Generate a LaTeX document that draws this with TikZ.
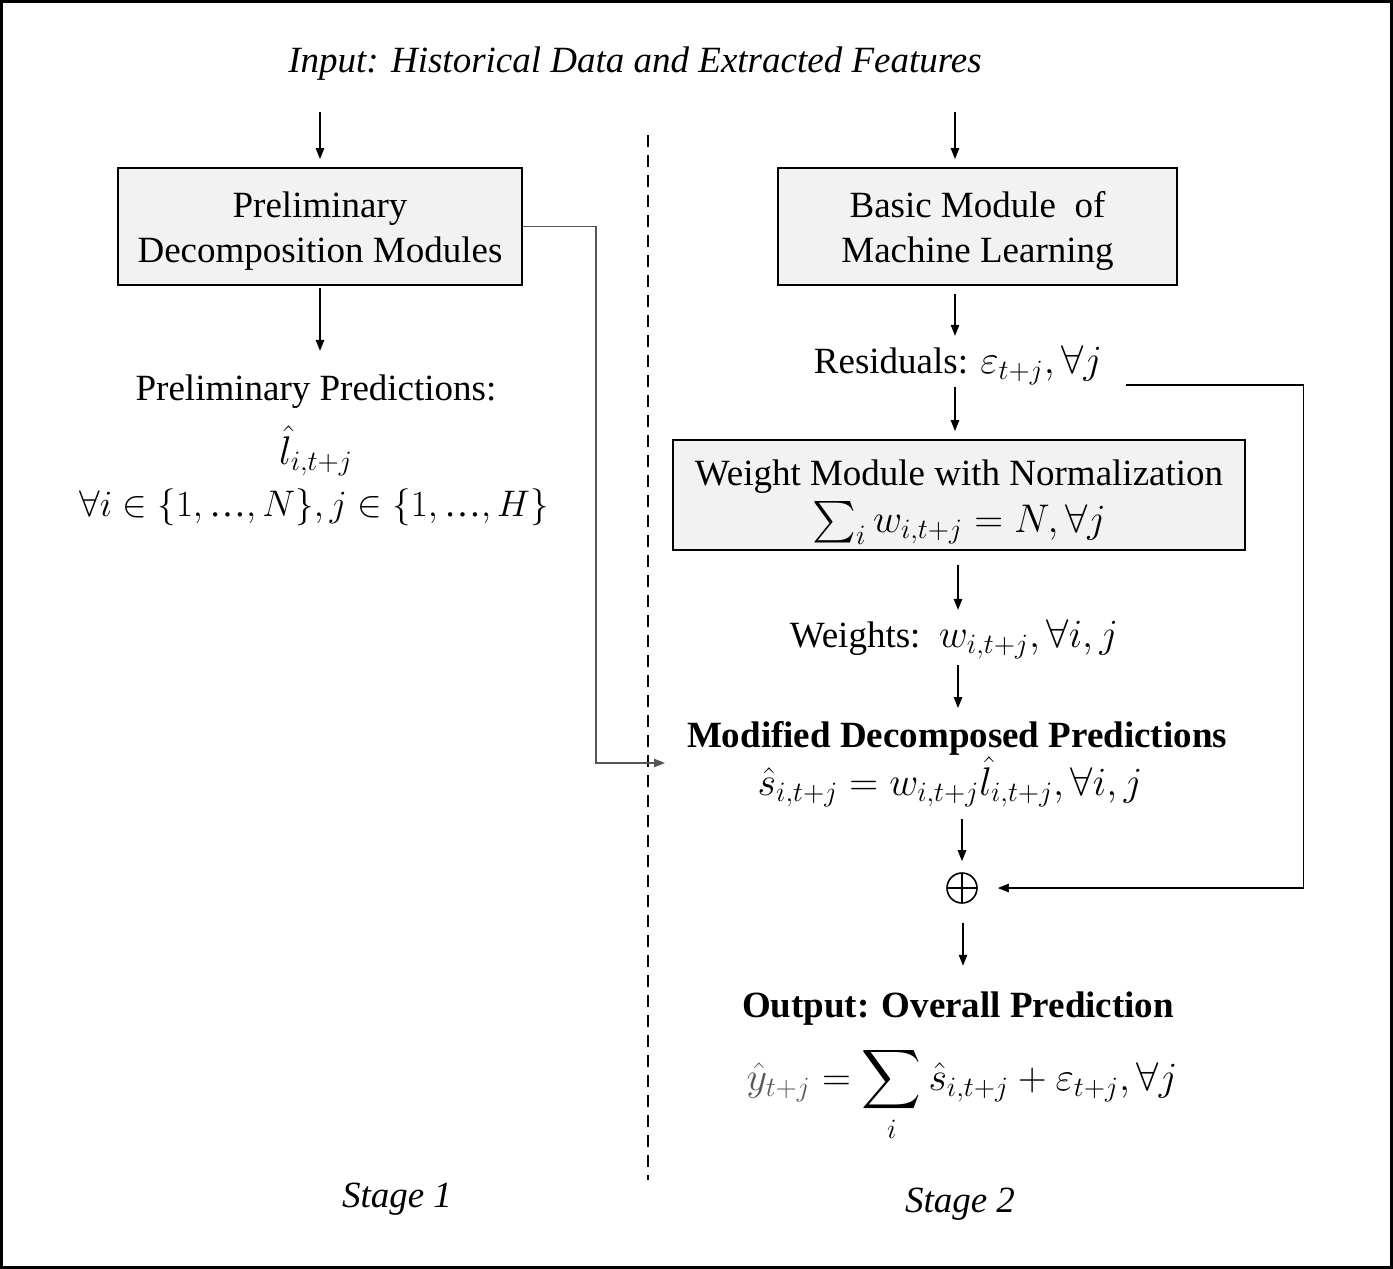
\RequirePackage{fix-cm}
\documentclass[tikz,border=0pt]{standalone}
\usepackage{amsmath}
\usepackage{fontspec}
\setmainfont{Liberation Serif}
\usetikzlibrary{arrows.meta,calc}
\definecolor{boxgray}{HTML}{F2F2F2}
\definecolor{linkgray}{HTML}{555555}
\newcommand\mth[1]{{\fontsize{20}{22.5}\selectfont$#1$}}
\newcommand\mthsmall[1]{{\fontsize{18.5}{22.5}\selectfont$#1$}}
\newcommand\mydots{\text{…}}
\begin{document}
\begin{tikzpicture}[x=0.5pt,y=-0.5pt,
  font=\fontsize{18.5}{22.5}\selectfont,
  txt/.style={inner sep=0pt, anchor=base},
  box/.style={draw, line width=0.9pt, fill=boxgray, align=center, inner sep=0pt},
  arr/.style={line width=0.7pt, -{Triangle[length=5.5pt,width=4.2pt]}},
  link/.style={arr, draw=linkgray},
  sumnode/.style={circle, draw, line width=0.8pt, minimum size=15pt, inner sep=0pt,
    path picture={\draw[line width=0.8pt]
      (path picture bounding box.north) -- (path picture bounding box.south)
      (path picture bounding box.west) -- (path picture bounding box.east);}},
]
\useasboundingbox (0,0) rectangle (1393,1269);
\draw[line width=1.5pt] (1.5,1.5) rectangle (1391.5,1267.5);

% title
\node[txt] (title) at (635,72) {\itshape Input: Historical Data and Extracted Features};

% stage 1
\node[box, minimum width=202pt, minimum height=58.5pt] (box1) at (320,226.5)
  {\rule{0pt}{17.7pt}Preliminary\\Decomposition Modules};
\node[txt] (pp) at (316,400) {Preliminary Predictions:};
\node[txt] (lhat) at (316,464) {\mth{\hat{l}_{i,t+j}}};
\node[txt] (fa) at (314,516) {\mthsmall{\forall i \in \{1, \mydots, N\}, j \in \{1, \mydots, H\}}};

% stage 2
\node[box, minimum width=199.5pt, minimum height=58.5pt] (box2) at (977.5,226.5)
  {\rule{0pt}{17.7pt}Basic Module\ \ of\\Machine Learning};
\node[txt] (res) at (958,373) {Residuals: \mth{\varepsilon_{t+j}, \forall j}};
\node[box, minimum width=286pt, minimum height=55pt] (box3) at (959,495)
  {\rule{0pt}{20pt}Weight Module with Normalization\\[1pt] \mth{\textstyle\sum_i w_{i,t+j} = N, \forall j}};
\node[txt] (wts) at (954,647) {Weights:\ \ \mth{w_{i,t+j}, \forall i, j}};
\node[txt] (mdp) at (957,747) {\bfseries Modified Decomposed Predictions};
\node[txt] (seq) at (950,795) {\mth{\hat{s}_{i,t+j} = w_{i,t+j}\hat{l}_{i,t+j}, \forall i, j}};
\node[sumnode] (plus) at (962,888) {};
\node[txt] (out) at (958,1017) {\bfseries Output: Overall Prediction};
\node[txt] (yeq) at (962,1090) {\mth{\displaystyle {\color{black!65}\hat{y}_{t+j}} = \sum_i \hat{s}_{i,t+j} + \varepsilon_{t+j}, \forall j}};

\node[txt] (st1) at (397,1207) {\itshape Stage 1};
\node[txt] (st2) at (960,1212) {\itshape Stage 2};

% separator
\draw[line width=1.2pt, dash pattern=on 6pt off 4pt] (648,135) -- (648,1180);

% arrows
\draw[arr] ($(box1.north)+(0,-55)$) -- ($(box1.north)+(0,-8)$);
\draw[arr] ($(box1.south)+(0,2)$) -- ($(box1.south)+(0,65)$);
\draw[arr] ($(box2.north)+(-22.5,-55)$) -- ($(box2.north)+(-22.5,-8)$);
\draw[arr] ($(box2.south)+(-22.5,8)$) -- ($(box2.south)+(-22.5,50)$);
\draw[arr] ($(box3.north)+(-4,-52)$) -- ($(box3.north)+(-4,-8)$);
\draw[arr] ($(box3.south)+(-1,14)$) -- ($(box3.south)+(-1,59)$);
\draw[arr] ($(mdp.base)+(1,-82)$) -- ($(mdp.base)+(1,-39)$);
\draw[arr] ($(plus.north)+(0,-53)$) -- ($(plus.north)+(0,-11)$);
\draw[arr] ($(plus.south)+(1,19)$) -- ($(plus.south)+(1,62)$);

% feedback connectors
\draw[link, line width=0.6pt] (box1.east) -- ++(73,0) |- ($(mdp.base)+(-292,16)$);
\draw[arr] ($(res.base east)+(23,12)$) -- ++(178,0) |- ($(plus.east)+(20,0)$);
\end{tikzpicture}
\end{document}
